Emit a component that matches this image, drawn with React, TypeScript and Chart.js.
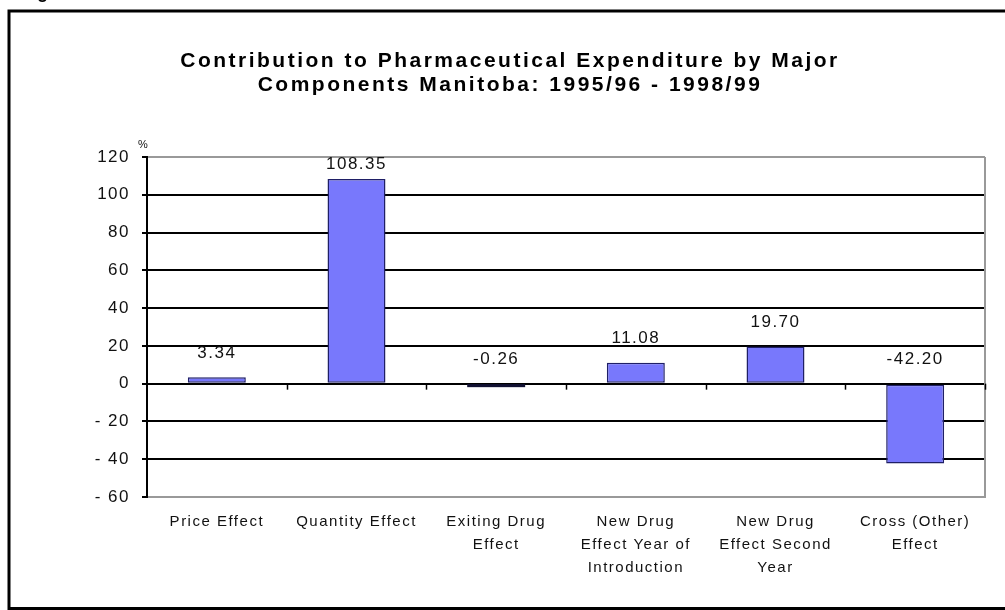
import React, { useEffect, useRef } from "react";
import { Chart, registerables } from "chart.js";

Chart.register(...registerables);

const categories: string[][] = [
  ["Price Effect"],
  ["Quantity Effect"],
  ["Exiting Drug", "Effect"],
  ["New Drug", "Effect Year of", "Introduction"],
  ["New Drug", "Effect Second", "Year"],
  ["Cross (Other)", "Effect"],
];
const values: number[] = [3.34, 108.35, -0.26, 11.08, 19.7, -42.2];
const valueLabels: string[] = ["3.34", "108.35", "-0.26", "11.08", "19.70", "-42.20"];
const yTickValues: number[] = [120, 100, 80, 60, 40, 20, 0, -20, -40, -60];
const yTickLabels: string[] = ["120", "100", "80", "60", "40", "20", "0", "- 20", "- 40", "- 60"];
const titleLines: string[] = [
  "Contribution to Pharmaceutical Expenditure by Major",
  "Components Manitoba: 1995/96 - 1998/99",
];
const unitLabel = "%";
const figureLabel = "Figure";

const FONT = "'Liberation Sans', Arial, sans-serif";

const decor = {
  id: "decor",
  beforeDraw(chart: any) {
    const ctx = chart.ctx;
    ctx.save();
    ctx.fillStyle = "#ffffff";
    ctx.fillRect(0, 0, chart.width, chart.height);
    ctx.restore();
    ctx.letterSpacing = "1.5px";
  },
  afterDatasetsDraw(chart: any) {
    // very small bars: shown as a solid outline strip
    const ctx = chart.ctx;
    const meta = chart.getDatasetMeta(0);
    ctx.save();
    ctx.fillStyle = "#111133";
    meta.data.forEach((bar: any) => {
      const h = Math.abs(bar.base - bar.y);
      if (h < 3) {
        const w = bar.width;
        const yTop = Math.min(bar.base, bar.y);
        ctx.fillRect(bar.x - w / 2, yTop, w, 3);
      }
    });
    ctx.restore();
  },
  afterDraw(chart: any) {
    const ctx = chart.ctx;
    const { left, right, top, bottom } = chart.chartArea;
    const yScale = chart.scales.y;
    const y0 = yScale.getPixelForValue(0);

    // right plot border
    ctx.save();
    ctx.strokeStyle = "#999999";
    ctx.lineWidth = 2;
    ctx.beginPath();
    ctx.moveTo(right, top);
    ctx.lineTo(right, bottom);
    ctx.stroke();

    // category tick marks on the zero line
    ctx.strokeStyle = "#000000";
    ctx.lineWidth = 1.5;
    const n = categories.length;
    for (let i = 1; i <= n; i++) {
      const x = Math.round(left + (i * (right - left)) / n) + 0.5;
      ctx.beginPath();
      ctx.moveTo(x, y0);
      ctx.lineTo(x, y0 + 6);
      ctx.stroke();
    }
    ctx.restore();

    // value labels
    const meta = chart.getDatasetMeta(0);
    ctx.save();
    ctx.letterSpacing = "1.5px";
    ctx.font = `17px ${FONT}`;
    ctx.fillStyle = "#111111";
    ctx.textAlign = "center";
    ctx.textBaseline = "middle";
    meta.data.forEach((bar: any, i: number) => {
      const y = Math.max(top + 7, yScale.getPixelForValue(Math.max(values[i], 0)) - 24);
      ctx.fillText(valueLabels[i], bar.x, y);
    });
    ctx.restore();

    // title
    ctx.save();
    ctx.letterSpacing = "2.5px";
    ctx.font = `bold 21px ${FONT}`;
    ctx.fillStyle = "#000000";
    ctx.textAlign = "center";
    ctx.textBaseline = "middle";
    titleLines.forEach((line, i) => {
      ctx.fillText(line, 510, 61 + i * 24);
    });
    ctx.restore();

    // unit label
    ctx.save();
    ctx.letterSpacing = "0px";
    ctx.font = `11px ${FONT}`;
    ctx.fillStyle = "#111111";
    ctx.textAlign = "center";
    ctx.textBaseline = "middle";
    ctx.fillText(unitLabel, left - 4, top - 12);
    ctx.restore();

    // cut-off heading above the frame
    ctx.save();
    ctx.letterSpacing = "0px";
    ctx.font = `bold 18px ${FONT}`;
    ctx.fillStyle = "#000000";
    ctx.textAlign = "left";
    ctx.textBaseline = "alphabetic";
    ctx.fillText(figureLabel, 21, -2);
    ctx.restore();

    // outer frame
    ctx.save();
    ctx.strokeStyle = "#000000";
    ctx.lineWidth = 3;
    ctx.strokeRect(9, 11, 1010, 597.5);
    ctx.restore();

    ctx.letterSpacing = "0px";
  },
};

export default function App() {
  const canvasRef = useRef<HTMLCanvasElement | null>(null);

  useEffect(() => {
    const canvas = canvasRef.current;
    if (!canvas) return;
    const chart = new Chart(canvas, {
      type: "bar",
      data: {
        labels: categories,
        datasets: [
          {
            data: values,
            backgroundColor: "#7878FC",
            borderColor: "#1f1f66",
            borderWidth: 1.5,
            borderSkipped: false,
            barPercentage: 0.415,
            categoryPercentage: 1,
          },
        ],
      },
      options: {
        responsive: false,
        animation: false,
        devicePixelRatio: 1,
        layout: { padding: { top: 157, right: 20, left: 0, bottom: 0 } },
        plugins: {
          legend: { display: false },
          title: { display: false },
          tooltip: { enabled: false },
        },
        scales: {
          x: {
            grid: { display: false, drawTicks: false },
            border: { display: true, color: "#999999", width: 2 },
            ticks: {
              font: { family: FONT, size: 15, lineHeight: 23 / 15 },
              color: "#111111",
              padding: 13,
              maxRotation: 0,
              minRotation: 0,
              autoSkip: false,
            },
            afterFit: (s: any) => {
              s.height = 113;
            },
          },
          y: {
            min: -60,
            max: 120,
            ticks: {
              stepSize: 20,
              font: { family: FONT, size: 17 },
              color: "#111111",
              padding: 12,
              callback: (v: any) => {
                const idx = yTickValues.indexOf(Number(v));
                return idx >= 0 ? yTickLabels[idx] : "";
              },
            },
            grid: {
              color: (c: any) =>
                c.tick && (c.tick.value === 120 || c.tick.value === -60) ? "#999999" : "#000000",
              lineWidth: 2,
              tickLength: 5,
              tickColor: "#000000",
              drawTicks: true,
            },
            border: { display: true, color: "#000000", width: 2 },
            afterFit: (s: any) => {
              s.width = 147;
            },
          },
        },
      },
      plugins: [decor],
    });
    return () => chart.destroy();
  }, []);

  return (
    <div style={{ position: "fixed", left: 0, top: 0, width: 1005, height: 610, background: "#fff" }}>
      <canvas ref={canvasRef} width={1005} height={610} style={{ display: "block" }} />
    </div>
  );
}
